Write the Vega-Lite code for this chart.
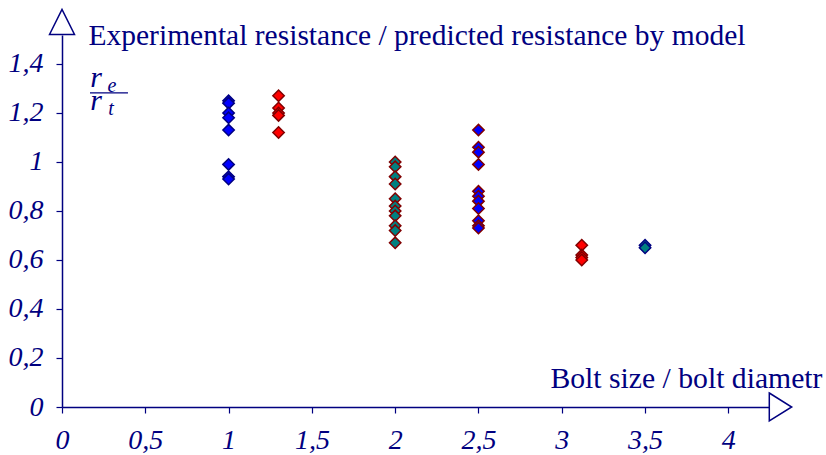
{
  "$schema": "https://vega.github.io/schema/vega-lite/v6.json",
  "width": 708,
  "height": 372,
  "autosize": {"type": "none"},
  "padding": {"left": 62, "top": 35, "right": 56, "bottom": 48},
  "background": "white",
  "config": {"view": {"stroke": null}, "font": "Liberation Serif"},
  "layer": [
    {
      "data": {"values": [
        {"x": 1, "y": 1.25, "g": "g1"}, {"x": 1, "y": 1.24, "g": "g1"}, {"x": 1, "y": 1.2, "g": "g1"}, {"x": 1, "y": 1.18, "g": "g1"}, {"x": 1, "y": 1.13, "g": "g1"}, {"x": 1, "y": 0.99, "g": "g1"}, {"x": 1, "y": 0.94, "g": "g1"}, {"x": 1, "y": 0.93, "g": "g1"},
        {"x": 1.3, "y": 1.27, "g": "g2"}, {"x": 1.3, "y": 1.22, "g": "g2"}, {"x": 1.3, "y": 1.2, "g": "g2"}, {"x": 1.3, "y": 1.19, "g": "g2"}, {"x": 1.3, "y": 1.12, "g": "g2"},
        {"x": 2, "y": 1.0, "g": "g3"}, {"x": 2, "y": 0.98, "g": "g3"}, {"x": 2, "y": 0.94, "g": "g3"}, {"x": 2, "y": 0.91, "g": "g3"}, {"x": 2, "y": 0.85, "g": "g3"}, {"x": 2, "y": 0.82, "g": "g3"}, {"x": 2, "y": 0.8, "g": "g3"}, {"x": 2, "y": 0.78, "g": "g3"}, {"x": 2, "y": 0.74, "g": "g3"}, {"x": 2, "y": 0.72, "g": "g3"}, {"x": 2, "y": 0.67, "g": "g3"},
        {"x": 2.5, "y": 1.13, "g": "g4"}, {"x": 2.5, "y": 1.06, "g": "g4"}, {"x": 2.5, "y": 1.04, "g": "g4"}, {"x": 2.5, "y": 0.99, "g": "g4"}, {"x": 2.5, "y": 0.88, "g": "g4"}, {"x": 2.5, "y": 0.86, "g": "g4"}, {"x": 2.5, "y": 0.84, "g": "g4"}, {"x": 2.5, "y": 0.81, "g": "g4"}, {"x": 2.5, "y": 0.76, "g": "g4"}, {"x": 2.5, "y": 0.74, "g": "g4"}, {"x": 2.5, "y": 0.73, "g": "g4"},
        {"x": 3.12, "y": 0.66, "g": "g2"}, {"x": 3.12, "y": 0.62, "g": "g2"}, {"x": 3.12, "y": 0.61, "g": "g2"}, {"x": 3.12, "y": 0.6, "g": "g2"},
        {"x": 3.5, "y": 0.66, "g": "g5"}, {"x": 3.5, "y": 0.65, "g": "g5"}
      ]},
      "mark": {"type": "point", "shape": "diamond", "filled": true, "size": 130, "strokeWidth": 1.5, "opacity": 1},
      "encoding": {
        "x": {"field": "x", "type": "quantitative", "scale": {"domain": [0, 4.25], "nice": false, "zero": false},
          "axis": {"values": [0, 0.5, 1, 1.5, 2, 2.5, 3, 3.5, 4], "format": ".1~f", "labelExpr": "replace(datum.label, '.', ',')",
            "grid": false, "domainColor": "#000080", "domainWidth": 1.5, "tickColor": "#000080", "tickSize": 6, "tickWidth": 1.2,
            "labelColor": "#000080", "labelFont": "Liberation Serif", "labelFontStyle": "italic", "labelFontSize": 28, "labelPadding": 13, "labelBaseline": "top", "labelFlush": false, "labelOverlap": false,
            "title": "Bolt size / bolt diametr", "titleColor": "#000080", "titleFont": "Liberation Serif", "titleFontWeight": "normal", "titleFontSize": 29.7,
            "titleX": 760, "titleY": -20, "titleAlign": "right", "titleAnchor": null, "titleBaseline": "alphabetic"}},
        "y": {"field": "y", "type": "quantitative", "scale": {"domain": [0, 1.518], "nice": false, "zero": false},
          "axis": {"values": [0, 0.2, 0.4, 0.6, 0.8, 1, 1.2, 1.4], "format": ".1~f", "labelExpr": "replace(datum.label, '.', ',')",
            "grid": false, "domainColor": "#000080", "domainWidth": 1.5, "tickColor": "#000080", "tickSize": 6, "tickWidth": 1.2,
            "labelColor": "#000080", "labelFont": "Liberation Serif", "labelFontStyle": "italic", "labelFontSize": 28, "labelPadding": 13, "labelFlush": false, "labelOverlap": false,
            "title": "Experimental resistance / predicted resistance by model", "titleColor": "#000080", "titleFont": "Liberation Serif", "titleFontWeight": "normal", "titleFontSize": 29.5,
            "titleAngle": 0, "titleX": 26, "titleY": 9, "titleAlign": "left", "titleAnchor": null, "titleBaseline": "alphabetic"}},
        "fill": {"field": "g", "type": "nominal", "legend": null,
          "scale": {"domain": ["g1", "g2", "g3", "g4", "g5"], "range": ["#0000FF", "#FF0000", "#008080", "#0000FF", "#008080"]}},
        "stroke": {"field": "g", "type": "nominal", "legend": null,
          "scale": {"domain": ["g1", "g2", "g3", "g4", "g5"], "range": ["#000080", "#800000", "#800000", "#800000", "#000080"]}}
      }
    },
    {
      "data": {"values": [{}]},
      "mark": {"type": "point", "shape": "M-0.8,-1L0.8,0L-0.8,1Z", "filled": true, "fill": "white", "stroke": "#000080", "strokeWidth": 1.5, "size": 784, "opacity": 1},
      "encoding": {"x": {"datum": 4.313}, "y": {"datum": 0}}
    },
    {
      "data": {"values": [{}]},
      "mark": {"type": "point", "shape": "M-1,1L0,-1L1,1Z", "filled": true, "fill": "white", "stroke": "#000080", "strokeWidth": 1.5, "size": 625, "opacity": 1},
      "encoding": {"x": {"datum": 0}, "y": {"datum": 1.571}}
    },
    {
      "data": {"values": [{}]},
      "mark": {"type": "text", "text": "r", "font": "Liberation Serif", "fontStyle": "italic", "fontSize": 30, "color": "#000080", "baseline": "alphabetic", "align": "center"},
      "encoding": {"x": {"datum": 0.204}, "y": {"datum": 1.306}}
    },
    {
      "data": {"values": [{}]},
      "mark": {"type": "text", "text": "e", "font": "Liberation Serif", "fontStyle": "italic", "fontSize": 20, "color": "#000080", "baseline": "alphabetic", "align": "center"},
      "encoding": {"x": {"datum": 0.3}, "y": {"datum": 1.286}}
    },
    {
      "data": {"values": [{}]},
      "mark": {"type": "rule", "color": "#000080", "strokeWidth": 1.2},
      "encoding": {"x": {"datum": 0.168}, "x2": {"datum": 0.396}, "y": {"datum": 1.282}}
    },
    {
      "data": {"values": [{}]},
      "mark": {"type": "text", "text": "r", "font": "Liberation Serif", "fontStyle": "italic", "fontSize": 30, "color": "#000080", "baseline": "alphabetic", "align": "center"},
      "encoding": {"x": {"datum": 0.204}, "y": {"datum": 1.212}}
    },
    {
      "data": {"values": [{}]},
      "mark": {"type": "text", "text": "t", "font": "Liberation Serif", "fontStyle": "italic", "fontSize": 20, "color": "#000080", "baseline": "alphabetic", "align": "center"},
      "encoding": {"x": {"datum": 0.294}, "y": {"datum": 1.192}}
    }
  ]
}
